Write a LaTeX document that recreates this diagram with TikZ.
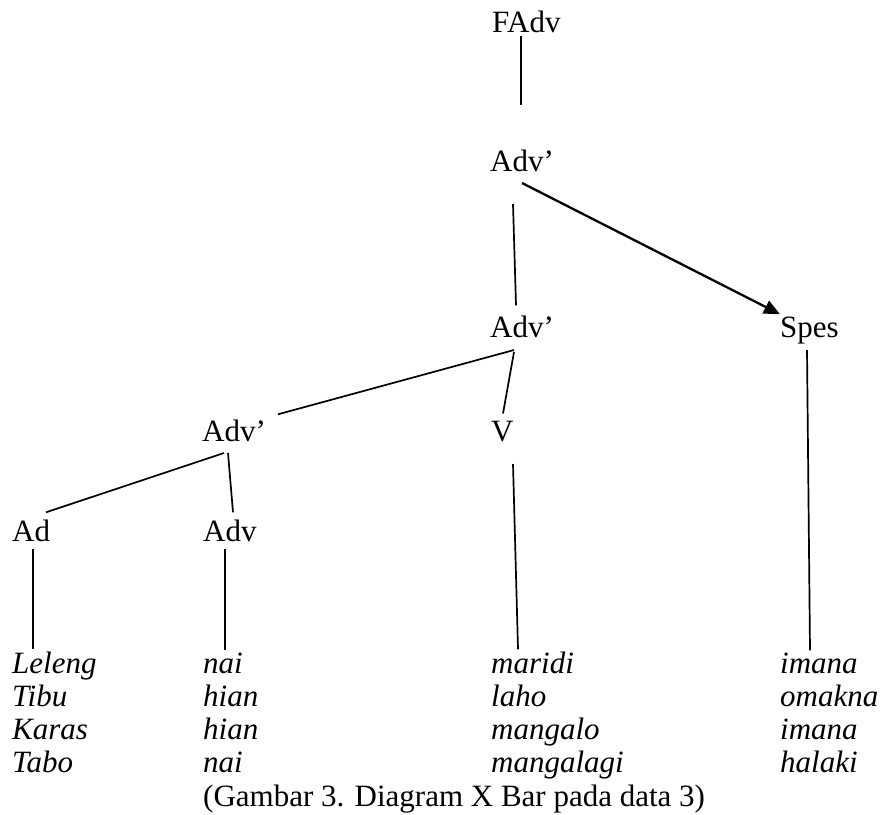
\documentclass[tikz,border=0pt]{standalone}
\usepackage{fontspec}
\setmainfont{Liberation Serif}
\usetikzlibrary{arrows.meta,calc}
\begin{document}
\begin{tikzpicture}[x=1pt,y=-1pt,
  lbl/.style={anchor=base west,inner sep=0pt,font=\fontsize{31}{33}\selectfont},
  word/.style={lbl,font=\fontsize{31}{33}\selectfont\itshape},
  branch/.style={line width=1.7pt},
  headarrow/.style={line width=2.3pt,-{Triangle[length=16pt,width=14pt]}}]
\useasboundingbox (0,0) rectangle (890,814);

% tree labels
\node[lbl] (fadv) at (492,32) {FAdv};
\node[lbl] (advA) at (490,171) {Adv’};
\node[lbl] (advB) at (490,337) {Adv’};
\node[lbl] (spes) at (780,337) {Spes};
\node[lbl] (advC) at (202,441) {Adv’};
\node[lbl] (v)    at (491,441) {V};
\node[lbl] (ad)   at (12,541)  {Ad};
\node[lbl] (adv)  at (203,541) {Adv};

% lexical items, one column per leaf
\foreach \w [count=\i] in {Leleng,Tibu,Karas,Tabo}
  \node[word] (a\i) at (12,{673+33*(\i-1)}) {\w};
\foreach \w [count=\i] in {nai,hian,hian,nai}
  \node[word] (b\i) at (203,{673+33*(\i-1)}) {\w};
\foreach \w [count=\i] in {maridi,laho,mangalo,mangalagi}
  \node[word] (c\i) at (491,{673+33*(\i-1)}) {\w};
\foreach \w [count=\i] in {imana,omakna,imana,halaki}
  \node[word] (d\i) at (780,{673+33*(\i-1)}) {\w};

\node[lbl] (cap) at (203,806) {(Gambar 3. Diagram X Bar pada data 3)};

% branches
\draw[branch] ($(fadv.base west)+(29,4)$) -- ($(advA.north west)+(31,-44)$);
\draw[branch] ($(advA.base west)+(23,33)$) -- ($(advB.north west)+(26,-10)$);
\draw[headarrow] ($(advA.base west)+(32,12)$) -- ($(spes.north west)+(0,-2)$);
\draw[branch] ($(advB.base west)+(24,13)$) -- ($(advC.north west)+(76,-5)$);
\draw[branch] ($(advB.base west)+(24,15)$) -- ($(v.north west)+(12,-7)$);
\draw[branch] ($(advC.base west)+(22,12)$) -- ($(ad.north west)+(34,-7)$);
\draw[branch] ($(advC.base west)+(26,12)$) -- ($(adv.north west)+(30,-7)$);
\draw[branch] ($(ad.base west)+(21,8)$) -- ($(a1.north west)+(21,-2)$);
\draw[branch] ($(adv.base west)+(22,8)$) -- ($(b1.north west)+(22,-2)$);
\draw[branch] ($(v.base west)+(22,23)$) -- ($(c1.north west)+(27,-2)$);
\draw[branch] ($(spes.base west)+(27,13)$) -- ($(d1.north west)+(30,-2)$);
\end{tikzpicture}
\end{document}
